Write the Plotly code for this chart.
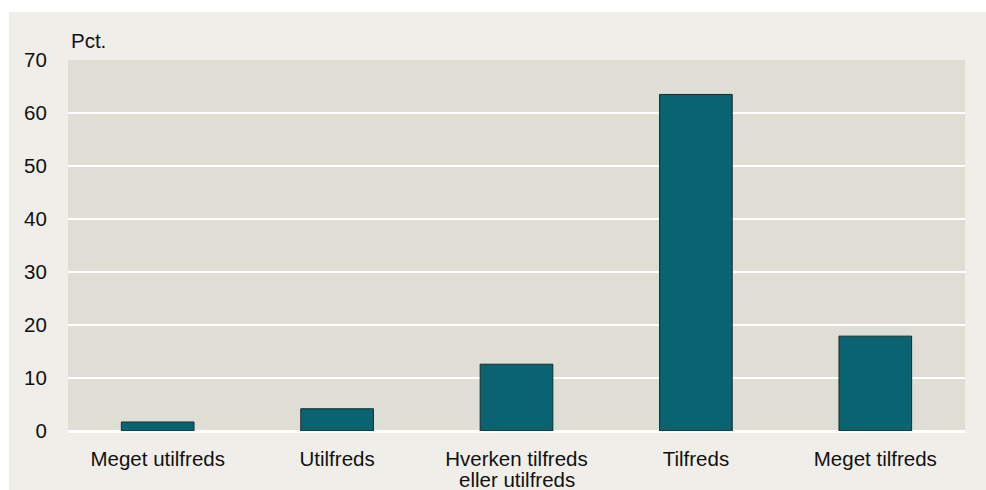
import plotly.graph_objects as go

categories = ["Meget utilfreds", "Utilfreds", "Hverken tilfreds", "Tilfreds", "Meget tilfreds"]
second_line = ["", "", "eller utilfreds", "", ""]
values = [1.7, 4.2, 12.6, 63.5, 17.9]
y_ticks = [0, 10, 20, 30, 40, 50, 60, 70]

W, H = 986, 490
L, R, T, B = 68, 21, 60, 59
PW, PH = W - L - R, H - T - B

fig = go.Figure()
fig.add_trace(go.Bar(
    x=categories, y=values,
    marker=dict(color="#0a6370", line=dict(color="#1a2a2c", width=1)),
    width=0.405,
    hoverinfo="x+y",
))

font = dict(family="Liberation Sans, Arial, sans-serif", size=20.5, color="#111111")

shapes = [
    dict(type="rect", xref="paper", yref="paper", layer="below", line=dict(width=0),
         fillcolor="#efeee8",
         x0=(9 - L) / PW, x1=(W - L) / PW, y0=-(B) / PH, y1=(H - B - 12) / PH),
    dict(type="rect", xref="paper", yref="paper", layer="below", line=dict(width=0),
         fillcolor="#dfded4", x0=0, x1=1, y0=0, y1=1),
]

annotations = [dict(text="Pct.", xref="paper", yref="paper", x=0, y=1, xanchor="left", yanchor="bottom",
                    yshift=6, xshift=1, showarrow=False, font=font)]
for c, s in zip(categories, second_line):
    if s:
        annotations.append(dict(text=s, x=c, xref="x", yref="paper", y=0, yanchor="middle",
                                yshift=-48, showarrow=False, font=font))

fig.update_layout(
    width=W, height=H, autosize=False,
    paper_bgcolor="#ffffff",
    plot_bgcolor="rgba(0,0,0,0)",
    font=font,
    showlegend=False,
    margin=dict(l=L, r=R, t=T, b=B, pad=0),
    shapes=shapes,
    annotations=annotations,
    xaxis=dict(showgrid=False, ticks="outside", ticklen=9, tickcolor="rgba(0,0,0,0)",
               showline=False, zeroline=False),
    yaxis=dict(range=[0, 70], tickvals=y_ticks, showgrid=True, gridcolor="#ffffff", gridwidth=2,
               zeroline=True, zerolinecolor="#ffffff", zerolinewidth=3,
               ticks="outside", ticklen=16, tickcolor="rgba(0,0,0,0)", showline=False),
)
fig.write_html("out.html", config={"displayModeBar": False},
               post_script="document.body.style.margin='0';document.body.style.overflow='hidden';")
